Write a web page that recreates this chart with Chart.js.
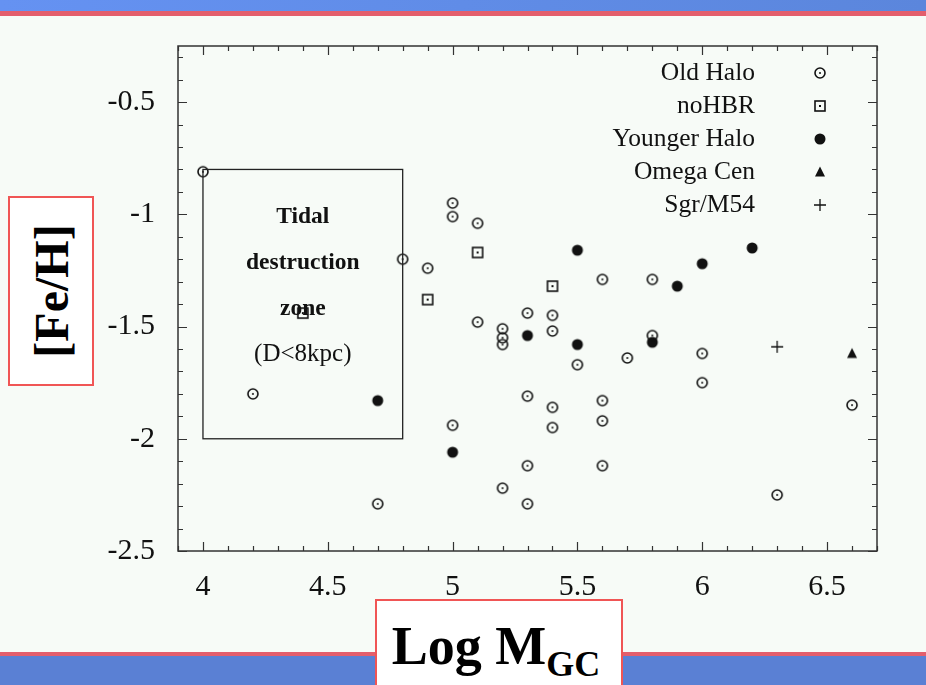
<!DOCTYPE html>
<html>
<head>
<meta charset="utf-8">
<script src="https://cdn.jsdelivr.net/npm/chart.js@4/dist/chart.umd.min.js"></script>
<style>
  html, body { margin: 0; padding: 0; background: #f7fbf7; overflow: hidden; }
  #wrap { position: relative; width: 926px; height: 685px; }
  #topbar { position: absolute; left: 0; top: 0; width: 926px; height: 11px;
    background: linear-gradient(to right, #6592f2, #5b86dc); border-bottom: 5px solid #e35e6c; }
  #botbar { position: absolute; left: 0; top: 652px; width: 926px; height: 29px;
    background: #5a80d4; border-top: 4px solid #e35e6c; }
  .lbl { position: absolute; background: #fff; border: 2px solid #f05555;
    font-family: "Liberation Serif", serif; font-weight: bold; color: #000; box-sizing: border-box; }
  #ylbl { left: 8px; top: 196px; width: 86px; height: 190px; }
  #ylbl span { position: absolute; left: 50%; top: 50%; transform: translate(-50%, -50%) rotate(-90deg);
    font-size: 48px; white-space: nowrap; }
  #xlbl { left: 375px; top: 599px; width: 248px; height: 90px; text-align: center;
    font-size: 54px; line-height: 90px; padding-right: 6px; }
  #xlbl sub { font-size: 36px; vertical-align: -12px; line-height: 0; }
</style>
</head>
<body>
<div id="wrap">
  <canvas id="chart" width="926" height="685"></canvas>
  <div id="topbar"></div>
  <div id="botbar"></div>
  <div class="lbl" id="ylbl"><span>[Fe/H]</span></div>
  <div class="lbl" id="xlbl">Log M<sub>GC</sub></div>
</div>
<script>
// axis setup
const xMin = 3.9, xMax = 6.7;
const yMin = -2.5, yMax = -0.25;
const xTicks = [4, 4.5, 5, 5.5, 6, 6.5];
const yTicks = [-2.5, -2, -1.5, -1, -0.5];

// data
const oldHaloX = [4.0, 4.2, 4.7, 4.8, 4.9, 5.0, 5.0, 5.0, 5.1, 5.1, 5.2, 5.2, 5.2, 5.2, 5.3, 5.3, 5.3, 5.3,
  5.4, 5.4, 5.4, 5.4, 5.5, 5.6, 5.6, 5.6, 5.6, 5.7, 5.8, 5.8, 6.0, 6.0, 6.3, 6.6];
const oldHaloY = [-0.81, -1.80, -2.29, -1.20, -1.24, -0.95, -1.01, -1.94, -1.04, -1.48, -1.51, -1.55, -1.58, -2.22,
  -1.44, -1.81, -2.12, -2.29, -1.45, -1.52, -1.86, -1.95, -1.67, -1.29, -1.83, -1.92, -2.12, -1.64, -1.29, -1.54,
  -1.62, -1.75, -2.25, -1.85];
const noHbrX = [4.4, 4.9, 5.1, 5.4];
const noHbrY = [-1.44, -1.38, -1.17, -1.32];
const youngX = [4.7, 5.0, 5.3, 5.5, 5.5, 5.8, 5.9, 6.0, 6.2];
const youngY = [-1.83, -2.06, -1.54, -1.16, -1.58, -1.57, -1.32, -1.22, -1.15];
const omegaX = [6.6];
const omegaY = [-1.62];
const sgrX = [6.3];
const sgrY = [-1.59];

// tidal destruction zone box
const zoneX = [4.0, 4.8];
const zoneY = [-2.0, -0.8];
const zoneText = ["Tidal", "destruction", "zone", "(D<8kpc)"];

function makeMarker(kind) {
  const c = document.createElement('canvas');
  c.width = c.height = 16;
  const g = c.getContext('2d');
  g.strokeStyle = '#111';
  g.fillStyle = '#111';
  g.lineWidth = 1.6;
  if (kind === 'ring') {
    g.beginPath(); g.arc(8, 8, 5, 0, Math.PI * 2); g.stroke();
    g.beginPath(); g.arc(8, 8, 1, 0, Math.PI * 2); g.fill();
  } else if (kind === 'box') {
    g.strokeRect(3, 3, 10, 10);
    g.fillRect(7, 7, 2, 2);
  } else if (kind === 'dot') {
    g.beginPath(); g.arc(8, 8, 5.5, 0, Math.PI * 2); g.fill();
  } else if (kind === 'tri') {
    g.beginPath(); g.moveTo(8, 2.5); g.lineTo(13, 12.5); g.lineTo(3, 12.5); g.closePath(); g.fill();
  } else if (kind === 'plus') {
    g.lineWidth = 1.3;
    g.beginPath(); g.moveTo(2, 8); g.lineTo(14, 8); g.moveTo(8, 2); g.lineTo(8, 14); g.stroke();
  }
  return c;
}

function pts(xs, ys) {
  return xs.map((x, i) => ({ x: x, y: ys[i] }));
}

const series = [
  { label: 'Old Halo', xs: oldHaloX, ys: oldHaloY, marker: 'ring' },
  { label: 'noHBR', xs: noHbrX, ys: noHbrY, marker: 'box' },
  { label: 'Younger Halo', xs: youngX, ys: youngY, marker: 'dot' },
  { label: 'Omega Cen', xs: omegaX, ys: omegaY, marker: 'tri' },
  { label: 'Sgr/M54', xs: sgrX, ys: sgrY, marker: 'plus' }
];

const datasets = series.map(s => ({
  label: s.label,
  data: pts(s.xs, s.ys),
  pointStyle: makeMarker(s.marker),
  pointRadius: 8,
  pointHoverRadius: 8
}));

const SERIF = '"Liberation Serif", "Times New Roman", serif';

// frame, inward ticks, zone box and legend
const decor = {
  id: 'decor',
  afterDraw(chart) {
    const ctx = chart.ctx;
    const a = chart.chartArea;
    const xs = chart.scales.x, ys = chart.scales.y;
    ctx.save();
    ctx.strokeStyle = '#333';
    ctx.lineWidth = 1.5;
    ctx.strokeRect(a.left, a.top, a.right - a.left, a.bottom - a.top);

    ctx.lineWidth = 1.2;
    ctx.beginPath();
    for (let i = Math.ceil(xMin * 10); i <= Math.floor(xMax * 10); i++) {
      const px = Math.round(xs.getPixelForValue(i / 10)) + 0.5;
      const len = i % 5 === 0 ? 9 : 5;
      ctx.moveTo(px, a.bottom); ctx.lineTo(px, a.bottom - len);
      ctx.moveTo(px, a.top); ctx.lineTo(px, a.top + len);
    }
    for (let i = Math.ceil(yMin * 10); i <= Math.floor(yMax * 10); i++) {
      const py = Math.round(ys.getPixelForValue(i / 10)) + 0.5;
      const len = i % 5 === 0 ? 9 : 5;
      ctx.moveTo(a.left, py); ctx.lineTo(a.left + len, py);
      ctx.moveTo(a.right, py); ctx.lineTo(a.right - len, py);
    }
    ctx.stroke();

    // zone box
    const zl = xs.getPixelForValue(zoneX[0]), zr = xs.getPixelForValue(zoneX[1]);
    const zt = ys.getPixelForValue(zoneY[1]), zb = ys.getPixelForValue(zoneY[0]);
    ctx.strokeStyle = '#222';
    ctx.lineWidth = 1.3;
    ctx.strokeRect(zl, zt, zr - zl, zb - zt);
    ctx.fillStyle = '#111';
    ctx.textAlign = 'center';
    ctx.textBaseline = 'middle';
    const cx = (zl + zr) / 2;
    zoneText.forEach((t, i) => {
      ctx.font = (i === 3 ? '25px ' : 'bold 23.5px ') + SERIF;
      ctx.fillText(t, cx, zt + 47 + i * 46);
    });

    // legend
    ctx.font = '25.5px ' + SERIF;
    ctx.textAlign = 'right';
    chart.data.datasets.forEach((ds, i) => {
      const y = a.top + 27 + i * 33;
      ctx.fillText(ds.label, 755, y);
      ctx.drawImage(ds.pointStyle, 820 - 8, y - 8);
    });
    ctx.restore();
  }
};

new Chart(document.getElementById('chart'), {
  type: 'scatter',
  data: { datasets: datasets },
  options: {
    responsive: false,
    animation: false,
    devicePixelRatio: 1,
    layout: { padding: { top: 46, right: 49, left: 0, bottom: 0 } },
    plugins: { legend: { display: false }, tooltip: { enabled: false } },
    scales: {
      x: {
        type: 'linear', min: xMin, max: xMax,
        grid: { display: false, drawTicks: false },
        border: { display: false },
        afterBuildTicks: s => { s.ticks = xTicks.map(v => ({ value: v })); },
        afterFit: s => { s.height = 134; },
        ticks: { color: '#111', padding: 18, font: { family: SERIF, size: 30 }, callback: v => String(v) }
      },
      y: {
        type: 'linear', min: yMin, max: yMax,
        grid: { display: false, drawTicks: false },
        border: { display: false },
        afterBuildTicks: s => { s.ticks = yTicks.map(v => ({ value: v })); },
        afterFit: s => { s.width = 178; },
        ticks: { color: '#111', padding: 23, font: { family: SERIF, size: 30 }, callback: v => String(v) }
      }
    }
  },
  plugins: [decor]
});
</script>
</body>
</html>
